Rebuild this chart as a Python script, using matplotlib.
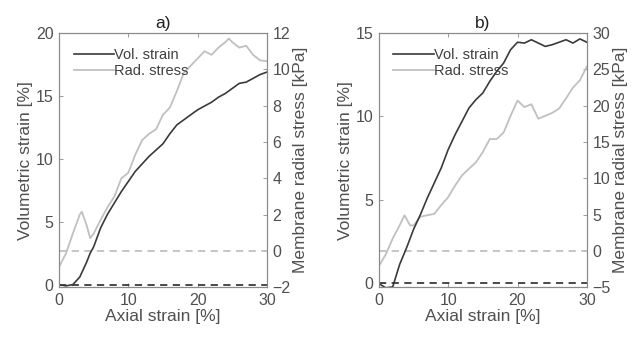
import matplotlib.pyplot as plt
import numpy as np

plt.rcParams['font.family'] = ['Liberation Sans', 'DejaVu Sans']

# panel a)
ax_a = [0, 1, 2, 3, 4, 4.5, 5, 6, 7, 8, 9, 10, 11, 12, 13, 14, 15, 16, 17, 18, 19, 20,
        21, 22, 23, 24, 25, 26, 27, 28, 29, 30]
vol_a = [0.0, -0.1, 0.0, 0.6, 1.8, 2.5, 3.0, 4.5, 5.6, 6.5, 7.4, 8.2, 9.0, 9.6, 10.2, 10.7,
         11.2, 12.0, 12.7, 13.1, 13.5, 13.9, 14.2, 14.5, 14.9, 15.2, 15.6, 16.0, 16.1, 16.4, 16.7, 16.9]
ax_a2 = [0, 1, 2, 3, 3.3, 4, 4.5, 5, 6, 7, 8, 9, 10, 11, 12, 13, 14, 15, 16, 17, 18, 19, 20,
         21, 22, 23, 24, 24.5, 25, 26, 27, 28, 29, 30]
rad_a = [-0.9, -0.15, 0.95, 2.0, 2.15, 1.4, 0.7, 0.95, 1.7, 2.4, 3.0, 4.0, 4.3, 5.3, 6.1, 6.45,
         6.7, 7.5, 7.9, 8.8, 9.8, 10.2, 10.6, 11.0, 10.8, 11.2, 11.5, 11.7, 11.5, 11.2, 11.3,
         10.8, 10.5, 10.45]

# panel b)
ax_b = [0, 1, 2, 3, 4, 5, 6, 7, 8, 9, 10, 11, 12, 13, 14, 15, 16, 17, 18, 19, 20,
        21, 22, 23, 24, 25, 26, 27, 28, 29, 30]
vol_b = [-0.05, -0.3, -0.25, 1.1, 2.1, 3.2, 4.1, 5.1, 6.0, 6.9, 8.0, 8.9, 9.7, 10.5, 11.0,
         11.4, 12.1, 12.7, 13.2, 14.0, 14.45, 14.4, 14.6, 14.4, 14.2, 14.3, 14.45, 14.6,
         14.4, 14.65, 14.45]
ax_b2 = [0, 1, 2, 3, 3.7, 4.5, 5, 6, 7, 8, 9, 10, 11, 12, 13, 14, 15, 16, 17, 18, 19, 20,
         21, 22, 23, 24, 25, 26, 27, 28, 29, 30]
rad_b = [-2.1, -0.5, 1.7, 3.5, 4.9, 3.5, 3.5, 4.7, 4.9, 5.1, 6.3, 7.4, 9.0, 10.4, 11.3,
         12.2, 13.6, 15.4, 15.4, 16.3, 18.6, 20.7, 19.8, 20.2, 18.2, 18.6, 19.0, 19.6,
         21.0, 22.5, 23.5, 25.4]

dark = '#3a3a3a'
light = '#c0c0c0'
spine = '#8a8a8a'
txt = '#505050'

fig = plt.figure(figsize=(6.41, 3.41), dpi=100)


def panel(rect, title, x1, y1, x2, y2, ylim1, ylim2, yt1, yt2):
    ax = fig.add_axes(rect)
    ax2 = ax.twinx()
    ax.set_zorder(ax2.get_zorder() + 1)
    ax.patch.set_visible(False)
    ax.plot(x1, y1, color=dark, lw=1.2, label='Vol. strain')
    ax.plot([0, 30], [0, 0], color=dark, lw=1.3, ls=(0, (4, 3)))
    ax2.plot(x2, y2, color=light, lw=1.3)
    ax2.plot([0, 30], [0, 0], color=light, lw=1.3, ls=(0, (4, 3)))
    ax.plot([], [], color=light, lw=1.3, label='Rad. stress')
    ax.set_xlim(0, 30)
    ax.set_ylim(*ylim1)
    ax2.set_ylim(*ylim2)
    ax.set_xticks([0, 10, 20, 30])
    ax.set_yticks(yt1)
    ax2.set_yticks(yt2)
    for a in (ax, ax2):
        for s in a.spines.values():
            s.set_color(spine)
            s.set_linewidth(0.8)
        a.tick_params(direction='in', colors=spine, labelcolor=txt, labelsize=11.5,
                      length=3, width=0.6, pad=4)
    ax.tick_params(top=True)
    ax.set_xlabel('Axial strain [%]', fontsize=12.5, color=txt, labelpad=1)
    ax.set_ylabel('Volumetric strain [%]', fontsize=12.5, color=txt, labelpad=2)
    ax2.set_ylabel('Membrane radial stress [kPa]', fontsize=12.5, color=txt, labelpad=2)
    ax.set_title(title, fontsize=12.5, color='#202020', pad=4)
    leg = ax.legend(loc='upper left', frameon=False, fontsize=10.5, handlelength=2.8,
                    handletextpad=0.0, borderaxespad=0.6, labelspacing=0.15)
    for t in leg.get_texts():
        t.set_color('#404040')


panel([0.092, 0.158, 0.3245, 0.745], 'a)', ax_a, vol_a, ax_a2, rad_a,
      (-0.2, 20), (-2, 12), [0, 5, 10, 15, 20], [-2, 0, 2, 4, 6, 8, 10, 12])
panel([0.591, 0.158, 0.3245, 0.745], 'b)', ax_b, vol_b, ax_b2, rad_b,
      (-0.26, 15), (-5, 30), [0, 5, 10, 15], [-5, 0, 5, 10, 15, 20, 25, 30])

fig.savefig('out.png', dpi=100)
